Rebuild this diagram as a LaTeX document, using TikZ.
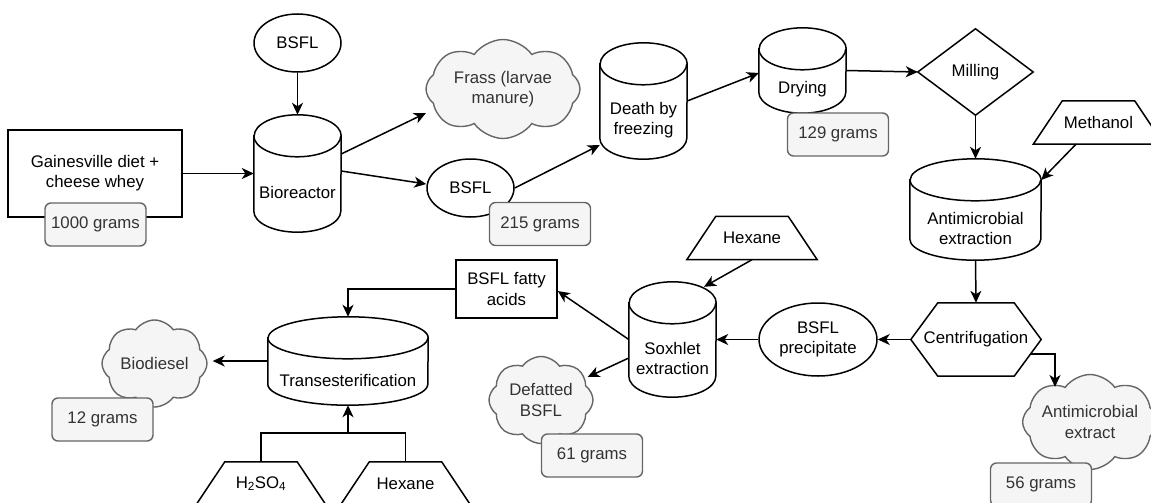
\documentclass[tikz,border=0pt]{standalone}
\usepackage{fontspec}
\setmainfont{Liberation Sans}
\usetikzlibrary{shapes.geometric,shapes.symbols,arrows.meta,calc}
\definecolor{lblfill}{HTML}{F5F5F5}
\definecolor{lbldraw}{HTML}{666666}
\definecolor{lbltext}{HTML}{333333}
\newcommand\myfs{\fontsize{16.8}{20.2}\selectfont}
\tikzset{
 every node/.append style={font=\myfs},
 box/.style={rectangle, draw=none, inner sep=0pt, align=center},
 shp/.style={draw=black, line width=1.5pt},
 plain/.style={rectangle, draw, line width=1.5pt, inner sep=0pt, align=center, fill=white},
 ell/.style={ellipse, draw, line width=1.5pt, inner sep=0pt, align=center, fill=white},
 cld/.style={cloud, cloud puffs=8, cloud puff arc=110, cloud ignores aspect, draw=lbldraw, fill=lblfill, text=lbltext, line width=1.4pt, inner sep=0pt, align=center},
 lbl/.style={rectangle, rounded corners=6pt, draw=lbldraw, fill=lblfill, text=lbltext, line width=1.4pt, minimum width=101pt, minimum height=43pt, inner sep=0pt},
 arr/.style={draw, line width=1.5pt, -{Stealth[length=12pt,width=11pt,inset=3.5pt]}},
 ln/.style={draw, line width=1.5pt},
 txt/.style={inner sep=0pt, align=center}
}
\newcommand\mycyl[6]{%
  \node[box, minimum width=#4pt, minimum height=#5pt] (#1) at (#2,#3) {};
  \draw[shp, fill=white] ([yshift=-21pt]#1.north west) -- ([yshift=21pt]#1.south west)
     arc[start angle=180, end angle=360, x radius=#4*0.5pt, y radius=21pt]
     -- ([yshift=-21pt]#1.north east)
     arc[start angle=0, end angle=180, x radius=#4*0.5pt, y radius=21pt] -- cycle;
  \draw[shp] ([yshift=-21pt]#1.north west) arc[start angle=180, end angle=360, x radius=#4*0.5pt, y radius=21pt];
  \node[txt] (#1-t) at ([yshift=-19pt]#1.center) {#6};
}
\newcommand\mytrap[4]{%
  \node[box, minimum width=130pt, minimum height=43pt] (#1) at (#2,#3) {#4};
  \draw[shp] ([xshift=29pt]#1.north west) -- ([xshift=-29pt]#1.north east) -- (#1.south east) -- (#1.south west) -- cycle;
}
\begin{document}
\begin{tikzpicture}[x=1pt,y=-1pt]
\useasboundingbox (0,0) rectangle (1151,503);
\clip (0,0) rectangle (1151,503);

% nodes
\node[plain, minimum width=174pt, minimum height=87pt] (diet) at (95,173.5) {Gainesville diet +\\cheese whey};
\node[ell, minimum width=87pt, minimum height=58pt] (bsfla) at (297.5,43) {BSFL};
\mycyl{bio}{297.5}{173.5}{87}{117}{Bioreactor}
\node[cld, minimum width=154pt, minimum height=99pt] (frass) at (503,89) {Frass (larvae\\manure)};
\node[ell, minimum width=87pt, minimum height=58pt] (bsflb) at (470.5,188) {BSFL};
\mycyl{death}{643.5}{101}{87}{116}{Death by\\freezing}
\mycyl{dry}{802.5}{70.5}{87}{85}{Drying}
\node[box, minimum width=115pt, minimum height=86pt] (mill) at (975.5,72) {Milling};
\draw[shp] (mill.north) -- (mill.east) -- (mill.south) -- (mill.west) -- cycle;
\mytrap{meth}{1098.5}{122.5}{Methanol}
\mycyl{ae}{975.5}{209.5}{131}{101}{Antimicrobial\\extraction}
\node[box, minimum width=130pt, minimum height=73pt] (cen) at (976,339.5) {Centrifugation};
\draw[shp] ([xshift=27pt]cen.north west) -- ([xshift=-27pt]cen.north east) -- (cen.east) -- ([xshift=-27pt]cen.south east) -- ([xshift=27pt]cen.south west) -- (cen.west) -- cycle;
\node[ell, minimum width=118pt, minimum height=73pt] (prec) at (818,339.5) {BSFL\\precipitate};
\node[cld, minimum width=126pt, minimum height=95pt] (amx) at (1090,422) {Antimicrobial\\extract};
\mycyl{sox}{672.5}{339.5}{87}{115}{Soxhlet\\extraction}
\mytrap{hexa}{752}{238}{Hexane}
\node[plain, minimum width=101pt, minimum height=58pt] (fatty) at (506.5,289) {BSFL fatty\\acids};
\node[cld, minimum width=104pt, minimum height=87pt] (defat) at (541,400) {Defatted\\BSFL};
\mycyl{trans}{348}{361}{160}{88}{Transesterification}
\node[cld, minimum width=105pt, minimum height=87pt] (bd) at (154.5,363.5) {Biodiesel};
\mytrap{acid}{261}{483.5}{H\textsubscript{2}SO\textsubscript{4}}
\mytrap{hexb}{405.5}{483.5}{Hexane}

% labels
\node[lbl] (l1000) at (95.5,224.5) {1000 grams};
\node[lbl] (l215) at (540,224) {215 grams};
\node[lbl] (l129) at (838,134.5) {129 grams};
\node[lbl] (l56) at (1041,484.5) {56 grams};
\node[lbl] (l61) at (592,455.5) {61 grams};
\node[lbl] (l12) at (102.5,419.5) {12 grams};

% connectors
\draw[arr] (diet.east) -- (bio.west);
\draw[arr] (bsfla.south) -- (bio.north);
\draw[arr] ([yshift=19.5pt]bio.east) -- ([xshift=-77pt,yshift=-24pt]frass.center);
\draw[arr] ([yshift=2.5pt]bio.east) -- ([yshift=4pt]bsflb.west);
\draw[arr] (bsflb.east) -- ([yshift=-44pt]death.west);
\draw[arr] (death.east) -- ([yshift=-2.5pt]dry.west);
\draw[arr] (dry.east) -- (mill.west);
\draw[arr] (mill.south) -- (ae.north);
\draw[arr] ([xshift=-22.5pt]meth.south) -- ([yshift=29.5pt]ae.east);
\draw[arr] (ae.south) -- (cen.north);
\draw[arr] (cen.west) -- (prec.east);
\draw[arr] ([xshift=54pt,yshift=-14.5pt]cen.center) -| ([xshift=-35pt,yshift=35pt]amx.center);
\draw[arr] (prec.west) -- (sox.east);
\draw[arr] (hexa.south) -- ([xshift=31.5pt,yshift=-5pt]sox.north);
\draw[arr] (sox.west) -- ([yshift=-2pt]fatty.east);
\draw[arr] ([yshift=-18.5pt]sox.west) -- ([xshift=-6pt,yshift=23pt]defat.east);
\draw[arr] (fatty.west) -| (trans.north);
\draw[arr] (trans.west) -- ([xshift=5pt,yshift=2.5pt]bd.east);
\coordinate (mrg) at ([yshift=-28pt]trans.south);
\draw[ln] (acid.north) |- (mrg) -| (hexb.north);
\draw[arr] (mrg) -- (trans.south);
\end{tikzpicture}
\end{document}
